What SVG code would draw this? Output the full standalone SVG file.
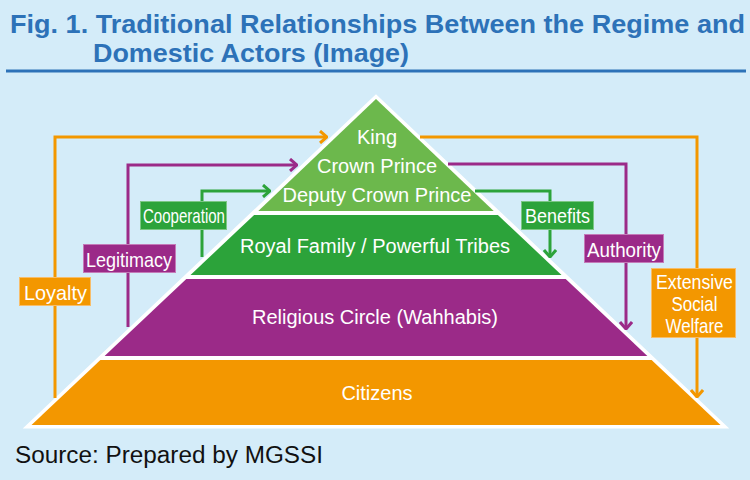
<svg xmlns="http://www.w3.org/2000/svg" width="750" height="480" viewBox="0 0 750 480">
<defs>
<style>
.title{font-family:"Liberation Sans",Arial,sans-serif;font-weight:bold;font-size:26px;fill:#2d72b8}
.pt{font-family:"Liberation Sans",Arial,sans-serif;font-size:20px;fill:#fff;text-anchor:middle}
.lb{font-family:"Liberation Sans",Arial,sans-serif;font-size:21px;fill:#fff;text-anchor:middle}
.src{font-family:"Liberation Sans",Arial,sans-serif;font-size:23px;fill:#111}
.c{fill:none;stroke-width:3}
.o{stroke:#f39700}.p{stroke:#9b2a88}.g{stroke:#2ca33a}
.bo{fill:#f39700;stroke:#f7bd6a;stroke-width:1}
.bp{fill:#9b2a88;stroke:#c47ab8;stroke-width:1}
.bg{fill:#2ca33a;stroke:#7cc785;stroke-width:1}
</style>
<marker id="ao" viewBox="0 0 10 14" refX="9" refY="7" markerWidth="10" markerHeight="14" markerUnits="userSpaceOnUse" orient="auto"><path d="M2,1 L9,7 L2,13" fill="none" stroke="#f39700" stroke-width="3"/></marker>
<marker id="ap" viewBox="0 0 10 14" refX="9" refY="7" markerWidth="10" markerHeight="14" markerUnits="userSpaceOnUse" orient="auto"><path d="M2,1 L9,7 L2,13" fill="none" stroke="#9b2a88" stroke-width="3"/></marker>
<marker id="ag" viewBox="0 0 10 14" refX="9" refY="7" markerWidth="10" markerHeight="14" markerUnits="userSpaceOnUse" orient="auto"><path d="M2,1 L9,7 L2,13" fill="none" stroke="#2ca33a" stroke-width="3"/></marker>
</defs>
<rect width="750" height="480" fill="#d4ecf9"/>
<g id="title">
<text class="title" x="10" y="33" textLength="735" lengthAdjust="spacingAndGlyphs">Fig. 1. Traditional Relationships Between the Regime and</text>
<text class="title" x="93" y="62" textLength="316" lengthAdjust="spacingAndGlyphs">Domestic Actors (Image)</text>
<line x1="6" y1="71" x2="746" y2="71" stroke="#2d72b8" stroke-width="3"/>
</g>
<g id="pyramid">
<polygon points="376,99 31.5,425 720.5,425" fill="#fff" stroke="#fff" stroke-width="7" stroke-linejoin="miter"/>
<g id="top">
<polygon points="376,99 493.7,211 258.3,211" fill="#6cb84c"/>
<text class="pt" x="377" y="144">King</text>
<text class="pt" x="377" y="173">Crown Prince</text>
<text class="pt" x="377" y="202">Deputy Crown Prince</text>
</g>
<g id="royal">
<polygon points="254.1,215 497.9,215 561.5,275 190.5,275" fill="#2ca33a"/>
<text class="pt" x="375" y="253">Royal Family / Powerful Tribes</text>
</g>
<g id="religious">
<polygon points="186.3,279 565.7,279 647.4,356 104.6,356" fill="#9b2a88"/>
<text class="pt" x="375" y="324">Religious Circle (Wahhabis)</text>
</g>
<g id="citizens">
<polygon points="100.4,360 651.6,360 720.5,425 31.5,425" fill="#f39700"/>
<text class="pt" x="377" y="400">Citizens</text>
</g>
</g>
<g id="connectors">
<path class="c o" d="M55,398 V137 H327" marker-end="url(#ao)"/>
<path class="c p" d="M128,327 V165 H297" marker-end="url(#ap)"/>
<path class="c g" d="M202,257 V191 H270" marker-end="url(#ag)"/>
<path class="c o" d="M420,137 H697 V397" marker-end="url(#ao)"/>
<path class="c p" d="M448,164 H626 V329" marker-end="url(#ap)"/>
<path class="c g" d="M475,191 H550 V257" marker-end="url(#ag)"/>
</g>
<g id="loyalty">
<rect class="bo" x="19.5" y="277.5" width="71" height="28"/>
<text class="lb" x="55.5" y="300" textLength="63" lengthAdjust="spacingAndGlyphs">Loyalty</text>
</g>
<g id="legitimacy">
<rect class="bp" x="83.5" y="244.5" width="92" height="28"/>
<text class="lb" x="129" y="267" textLength="86" lengthAdjust="spacingAndGlyphs">Legitimacy</text>
</g>
<g id="cooperation">
<rect class="bg" x="140.5" y="201.5" width="86" height="28"/>
<text class="lb" x="184" y="223" textLength="82" lengthAdjust="spacingAndGlyphs">Cooperation</text>
</g>
<g id="benefits">
<rect class="bg" x="521.5" y="201.5" width="72" height="28"/>
<text class="lb" x="557.5" y="223" textLength="65" lengthAdjust="spacingAndGlyphs">Benefits</text>
</g>
<g id="authority">
<rect class="bp" x="584.5" y="234.5" width="79" height="28"/>
<text class="lb" x="624" y="257" textLength="74" lengthAdjust="spacingAndGlyphs">Authority</text>
</g>
<g id="welfare">
<rect class="bo" x="651.5" y="268.5" width="84" height="69"/>
<text class="lb" x="694.5" y="289" textLength="77" lengthAdjust="spacingAndGlyphs">Extensive</text>
<text class="lb" x="694.5" y="311" textLength="46" lengthAdjust="spacingAndGlyphs">Social</text>
<text class="lb" x="694.5" y="333" textLength="58" lengthAdjust="spacingAndGlyphs">Welfare</text>
</g>
<text class="src" x="15" y="463" textLength="308" lengthAdjust="spacingAndGlyphs">Source: Prepared by MGSSI</text>
</svg>
